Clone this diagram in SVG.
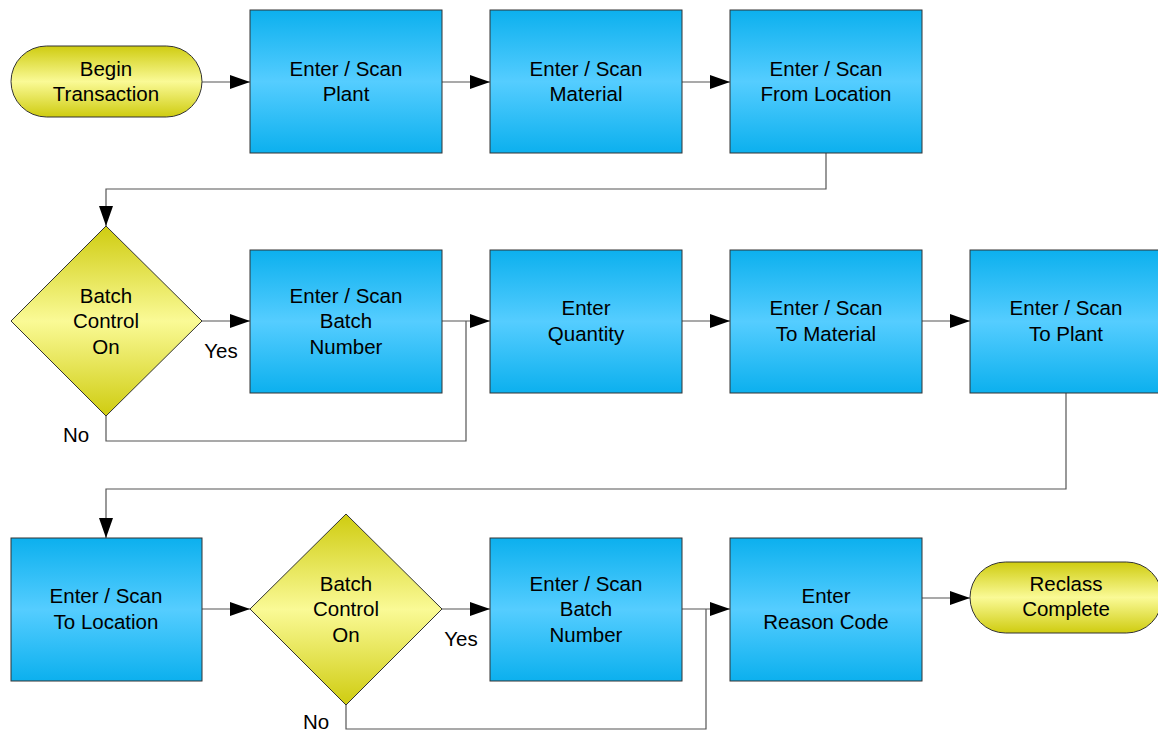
<svg xmlns="http://www.w3.org/2000/svg" width="1158" height="731" viewBox="0 0 1158 731">
<defs>
<linearGradient id="blue" x1="0" y1="0" x2="0" y2="1">
<stop offset="0" stop-color="#0cb0ee"/>
<stop offset="0.5" stop-color="#55cdff"/>
<stop offset="1" stop-color="#0cb0ee"/>
</linearGradient>
<linearGradient id="yellow" x1="0" y1="0" x2="0" y2="1">
<stop offset="0" stop-color="#cfcc10"/>
<stop offset="0.5" stop-color="#fafa96"/>
<stop offset="1" stop-color="#cfcc10"/>
</linearGradient>
<marker id="arr" markerWidth="20" markerHeight="14" refX="20" refY="7" orient="auto" markerUnits="userSpaceOnUse">
<path d="M0,0 L20,7 L0,14 Z" fill="#000"/>
</marker>
</defs>
<style>
.box{fill:url(#blue);stroke:#333;stroke-width:1}
.term{fill:url(#yellow);stroke:#333;stroke-width:1}
.dec{fill:url(#yellow);stroke:#333;stroke-width:1}
.t{font-family:"Liberation Sans",Arial,sans-serif;font-size:20.5px;fill:#000;text-anchor:middle}
.c{fill:none;stroke:#555;stroke-width:1.2}
.ca{fill:none;stroke:#555;stroke-width:1.2;marker-end:url(#arr)}
</style>
<rect width="1158" height="731" fill="#fff"/>
<g id="connectors">
<path class="ca" d="M202,82 H250"/>
<path class="ca" d="M442,82 H490"/>
<path class="ca" d="M682,82 H730"/>
<path class="ca" d="M826,153 V189 H106 V226"/>
<path class="ca" d="M202,321 H250"/>
<path class="ca" d="M442,321 H490"/>
<path class="c" d="M106,416 V441 H466 V321"/>
<path class="ca" d="M682,321 H730"/>
<path class="ca" d="M922,321 H970"/>
<path class="ca" d="M1066,393 V489 H106 V538"/>
<path class="ca" d="M202,609 H250"/>
<path class="ca" d="M442,609 H490"/>
<path class="ca" d="M682,609 H730"/>
<path class="c" d="M346,705 V729 H706 V609"/>
<path class="ca" d="M922,598 H970"/>
<text class="t" x="221" y="358">Yes</text>
<text class="t" x="76" y="442">No</text>
<text class="t" x="461" y="646">Yes</text>
<text class="t" x="316" y="729">No</text>
</g>
<g id="begin">
<rect class="term" x="11" y="46" width="191" height="71" rx="35.5"/>
<text class="t" x="106" y="76">Begin</text>
<text class="t" x="106" y="101">Transaction</text>
</g>
<g id="plant">
<rect class="box" x="250" y="10" width="192" height="143"/>
<text class="t" x="346" y="76">Enter / Scan</text>
<text class="t" x="346" y="101">Plant</text>
</g>
<g id="material">
<rect class="box" x="490" y="10" width="192" height="143"/>
<text class="t" x="586" y="76">Enter / Scan</text>
<text class="t" x="586" y="101">Material</text>
</g>
<g id="fromloc">
<rect class="box" x="730" y="10" width="192" height="143"/>
<text class="t" x="826" y="76">Enter / Scan</text>
<text class="t" x="826" y="101">From Location</text>
</g>
<g id="batch1">
<polygon class="dec" points="106,226 202,321 106,416 11,321"/>
<text class="t" x="106" y="303">Batch</text>
<text class="t" x="106" y="328">Control</text>
<text class="t" x="106" y="354">On</text>
</g>
<g id="batchnum1">
<rect class="box" x="250" y="250" width="192" height="143"/>
<text class="t" x="346" y="303">Enter / Scan</text>
<text class="t" x="346" y="328">Batch</text>
<text class="t" x="346" y="354">Number</text>
</g>
<g id="quantity">
<rect class="box" x="490" y="250" width="192" height="143"/>
<text class="t" x="586" y="315">Enter</text>
<text class="t" x="586" y="341">Quantity</text>
</g>
<g id="tomaterial">
<rect class="box" x="730" y="250" width="192" height="143"/>
<text class="t" x="826" y="315">Enter / Scan</text>
<text class="t" x="826" y="341">To Material</text>
</g>
<g id="toplant">
<rect class="box" x="970" y="250" width="192" height="143"/>
<text class="t" x="1066" y="315">Enter / Scan</text>
<text class="t" x="1066" y="341">To Plant</text>
</g>
<g id="tolocation">
<rect class="box" x="11" y="538" width="191" height="143"/>
<text class="t" x="106" y="603">Enter / Scan</text>
<text class="t" x="106" y="629">To Location</text>
</g>
<g id="batch2">
<polygon class="dec" points="346,514 442,609 346,705 250,609"/>
<text class="t" x="346" y="591">Batch</text>
<text class="t" x="346" y="616">Control</text>
<text class="t" x="346" y="642">On</text>
</g>
<g id="batchnum2">
<rect class="box" x="490" y="538" width="192" height="143"/>
<text class="t" x="586" y="591">Enter / Scan</text>
<text class="t" x="586" y="616">Batch</text>
<text class="t" x="586" y="642">Number</text>
</g>
<g id="reason">
<rect class="box" x="730" y="538" width="192" height="143"/>
<text class="t" x="826" y="603">Enter</text>
<text class="t" x="826" y="629">Reason Code</text>
</g>
<g id="complete">
<rect class="term" x="970" y="562" width="192" height="71" rx="35.5"/>
<text class="t" x="1066" y="591">Reclass</text>
<text class="t" x="1066" y="616">Complete</text>
</g>
</svg>
